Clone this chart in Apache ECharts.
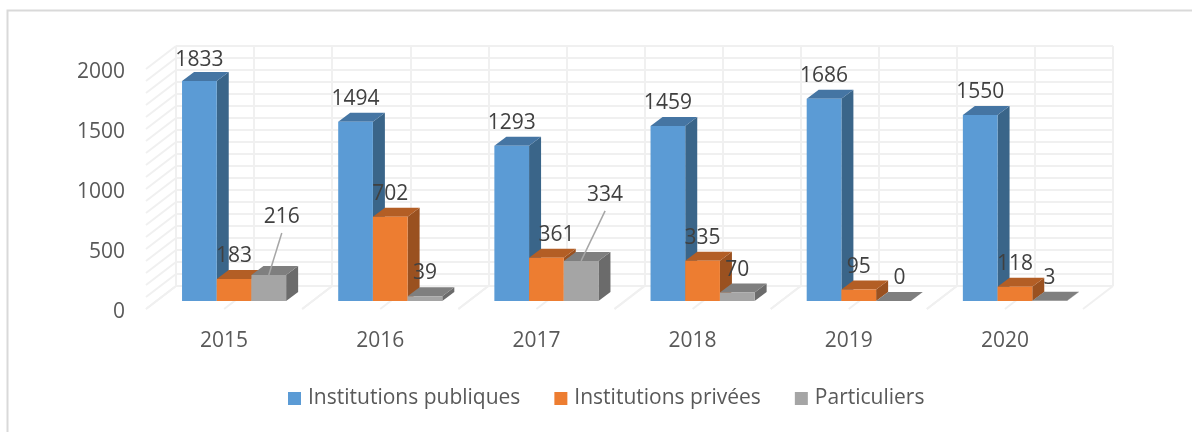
<!DOCTYPE html>
<html>
<head>
<meta charset="utf-8">
<style>
  html, body { margin: 0; padding: 0; background: #fff; }
  #chart { width: 1192px; height: 432px; }
</style>
<script src="https://cdn.jsdelivr.net/npm/echarts@6/dist/echarts.min.js"></script>
</head>
<body>
<div id="chart"></div>
<script>
const years = ["2015", "2016", "2017", "2018", "2019", "2020"];
const publiques = [1833, 1494, 1293, 1459, 1686, 1550];
const privees = [183, 702, 361, 335, 95, 118];
const particuliers = [216, 39, 334, 70, 0, 3];
const yTicks = [0, 100, 200, 300, 400, 500, 600, 700, 800, 900, 1000, 1100, 1200, 1300, 1400, 1500, 1600, 1700, 1800, 1900, 2000];

const fontName = "Open Sans";
const wallShift = [30, -23]; // front of the floor to the back wall
const barShift = [10, -8]; // bars stand a bit behind the front of the floor
const barDepth = [12, -9];
const barWidth = 34.7;

// labels that were dragged by hand in the original: [series, year] -> dx, dy, leader
const labelMoves = {
  "0-0": { dx: 0, dy: 2 },
  "2-0": { dx: 13, dy: -35, leader: true },
  "1-2": { dx: 10, dy: 0 },
  "2-2": { dx: 24, dy: -43, leader: true },
  "2-4": { dx: 6, dy: 0 },
};

// one 3d bar: front, top and side faces, the label on top
function renderBar(seriesIndex, colors) {
  return function (params, api) {
    const cat = api.value(0);
    const val = api.value(1);
    const bottom = api.coord([cat, 0]);
    const top = api.coord([cat, val]);
    const x0 = bottom[0] + barShift[0] + (seriesIndex - 1.5) * barWidth;
    const x1 = x0 + barWidth;
    const y0 = bottom[1] + barShift[1];
    const y1 = top[1] + barShift[1];
    const dx = barDepth[0];
    const dy = barDepth[1];
    const move = labelMoves[seriesIndex + "-" + cat] || { dx: 0, dy: 0 };
    const labelX = (x0 + x1) / 2 + move.dx;
    const labelY = y1 - 23 + move.dy;
    const children = [
      { type: "polygon", shape: { points: [[x1, y0], [x1 + dx, y0 + dy], [x1 + dx, y1 + dy], [x1, y1]] }, style: { fill: colors.side } },
      { type: "polygon", shape: { points: [[x0, y1], [x1, y1], [x1 + dx, y1 + dy], [x0 + dx, y1 + dy]] }, style: { fill: colors.top } },
      { type: "rect", shape: { x: x0, y: y1, width: barWidth, height: y0 - y1 }, style: { fill: colors.front } },
    ];
    if (move.leader) {
      children.push({
        type: "line",
        shape: { x1: labelX, y1: labelY + 16, x2: (x0 + x1) / 2, y2: y1 },
        style: { stroke: "#a6a6a6", lineWidth: 1.5 },
      });
    }
    children.push({
      type: "text",
      style: {
        x: labelX,
        y: labelY,
        text: String(val),
        fill: "#404040",
        font: "21px '" + fontName + "'",
        align: "center",
        verticalAlign: "middle",
      },
    });
    return { type: "group", children: children };
  };
}

// slanted lines of the side wall, one per y tick
function renderSideWall(params, api) {
  const p = api.coord([0, api.value(0)]);
  const x = p[0] - api.size([1, 0])[0] / 2;
  return {
    type: "line",
    shape: { x1: x, y1: p[1], x2: x + wallShift[0], y2: p[1] + wallShift[1] },
    style: { stroke: "#f0f0f0", lineWidth: 2 },
  };
}

// slanted lines of the floor, at the year edges and middles
function renderFloor(params, api) {
  const i = api.value(0);
  const p = api.coord([i, 0]);
  const band = api.size([1, 0])[0];
  const lines = [-0.5, 0, 0.5].map(function (k) {
    const x = p[0] + k * band;
    return {
      type: "line",
      shape: { x1: x, y1: p[1], x2: x + wallShift[0], y2: p[1] + wallShift[1] },
      style: { stroke: "#f0f0f0", lineWidth: 2 },
    };
  });
  return { type: "group", children: lines };
}

function barSeries(name, values, seriesIndex, colors) {
  return {
    name: name,
    type: "custom",
    xAxisIndex: 0,
    yAxisIndex: 0,
    itemStyle: { color: colors.front },
    renderItem: renderBar(seriesIndex, colors),
    encode: { x: 0, y: 1 },
    data: values.map(function (v, i) { return [i, v]; }),
    z: 5 + seriesIndex,
    silent: true,
  };
}

const chart = echarts.init(document.getElementById("chart"));
chart.setOption({
  animation: false,
  backgroundColor: "#fff",
  textStyle: { fontFamily: fontName },
  graphic: [{
    type: "polyline",
    shape: { points: [[7.5, 432], [7.5, 10.5], [1192, 10.5]] },
    style: { fill: "none", stroke: "#d9d9d9", lineWidth: 2 },
    silent: true,
  }],
  legend: {
    top: 383,
    left: 283,
    itemWidth: 13,
    itemHeight: 13,
    itemGap: 34,
    icon: "rect",
    textStyle: { color: "#595959", fontSize: 21, fontFamily: fontName, padding: [0, 0, 0, 2] },
    data: ["Institutions publiques", "Institutions privées", "Particuliers"],
  },
  grid: [
    { left: 146, top: 69, width: 937, height: 240 },
    { left: 176, top: 46, width: 937, height: 240 }, // back wall
    { left: 146, top: 72, width: 937, height: 240 }, // only carries the y labels, they sit a little low
  ],
  xAxis: [
    {
      type: "category",
      gridIndex: 0,
      data: years,
      axisLine: { show: false },
      axisTick: { show: false },
      axisLabel: { color: "#595959", fontSize: 21, margin: 22 },
    },
    {
      type: "value",
      gridIndex: 1,
      min: 0,
      max: 12,
      interval: 1,
      axisLine: { show: false },
      axisTick: { show: false },
      axisLabel: { show: false },
      splitLine: { show: true, lineStyle: { color: "#f0f0f0", width: 2 } },
    },
    {
      type: "category",
      gridIndex: 2,
      data: years,
      show: false,
    },
  ],
  yAxis: [
    {
      type: "value",
      gridIndex: 0,
      min: 0,
      max: 2000,
      interval: 500,
      axisLine: { show: false },
      axisTick: { show: false },
      splitLine: { show: false },
      axisLabel: { show: false },
    },
    {
      type: "value",
      gridIndex: 1,
      min: 0,
      max: 2000,
      interval: 100,
      axisLine: { show: false },
      axisTick: { show: false },
      axisLabel: { show: false },
      splitLine: { show: true, lineStyle: { color: "#f0f0f0", width: 2 } },
    },
    {
      type: "value",
      gridIndex: 2,
      min: 0,
      max: 2000,
      interval: 500,
      axisLine: { show: false },
      axisTick: { show: false },
      splitLine: { show: false },
      axisLabel: {
        color: "#595959",
        fontSize: 21,
        margin: 21,
        formatter: function (v) { return String(v); },
      },
    },
  ],
  series: [
    {
      type: "custom",
      xAxisIndex: 0,
      yAxisIndex: 0,
      renderItem: renderSideWall,
      encode: { y: 0 },
      data: yTicks.map(function (v) { return [v]; }),
      z: 1,
      silent: true,
    },
    {
      type: "custom",
      xAxisIndex: 0,
      yAxisIndex: 0,
      renderItem: renderFloor,
      encode: { x: 0 },
      data: years.map(function (y, i) { return [i]; }),
      z: 1,
      silent: true,
    },
    barSeries("Institutions publiques", publiques, 0, { front: "#5b9bd5", top: "#4575a3", side: "#3a6589" }),
    barSeries("Institutions privées", privees, 1, { front: "#ed7d31", top: "#b35e25", side: "#9a5120" }),
    barSeries("Particuliers", particuliers, 2, { front: "#a5a5a5", top: "#7f7f7f", side: "#6b6b6b" }),
  ],
});
</script>
</body>
</html>
